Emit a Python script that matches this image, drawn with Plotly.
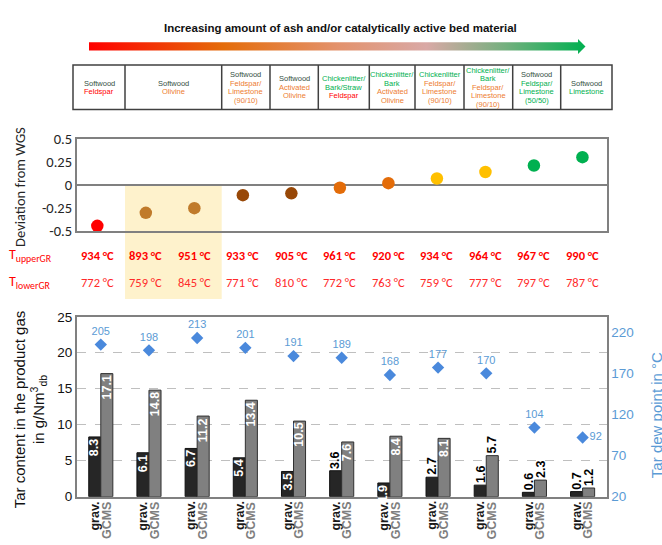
import plotly.graph_objects as go

# ---------------- data ----------------
cases = list(range(11))
wgs_deviation = [-0.44, -0.30, -0.25, -0.11, -0.09, -0.03, 0.02, 0.07, 0.14, 0.21, 0.30]
point_colors = ["#ff0000", "#c07b2b", "#c07b2b", "#984807", "#984807", "#e36c09",
                "#e36c09", "#ffc000", "#ffc000", "#00b050", "#00b050"]
t_upper = [934, 893, 951, 933, 905, 961, 920, 934, 964, 967, 990]
t_lower = [772, 759, 845, 771, 810, 772, 763, 759, 777, 797, 787]
tar_grav = [8.3, 6.1, 6.7, 5.4, 3.5, 3.6, 1.9, 2.7, 1.6, 0.6, 0.7]
tar_gcms = [17.1, 14.8, 11.2, 13.4, 10.5, 7.6, 8.4, 8.1, 5.7, 2.3, 1.2]
dew_point = [205, 198, 213, 201, 191, 189, 168, 177, 170, 104, 92]
# label placement of the bar values: in = inside at the top, out = above the bar
grav_label_pos = ["in", "in", "in", "in", "in", "out", "in", "out", "out", "out", "out"]
gcms_label_pos = ["in", "in", "in", "in", "in", "in", "in", "in", "out", "out", "out"]
dew_label_pos = ["top center"] * 10 + ["middle right"]
left_ticks = [0, 5, 10, 15, 20, 25]
right_ticks = [20, 70, 120, 170, 220]
dev_ticks = [-0.5, -0.25, 0, 0.25, 0.5]

# bed material table (text, colour key) per cell
table_cells = [
    [("Softwood", "wood"), ("Feldspar", "red")],
    [("Softwood", "wood"), ("Olivine", "orange")],
    [("Softwood", "wood"), ("Feldspar/", "orange"), ("Limestone", "orange"), ("(90/10)", "orange")],
    [("Softwood", "wood"), ("Activated", "orange"), ("Olivine", "orange")],
    [("Chickenlitter/", "green"), ("Bark/Straw", "green"), ("Feldspar", "red")],
    [("Chickenlitter/", "green"), ("Bark", "green"), ("Activated", "orange"), ("Olivine", "orange")],
    [("Chickenlitter", "green"), ("Feldspar/", "orange"), ("Limestone", "orange"), ("(90/10)", "orange")],
    [("Chickenlitter/", "green"), ("Bark", "green"), ("Feldspar/", "orange"), ("Limestone", "orange"), ("(90/10)", "orange")],
    [("Softwood", "wood"), ("Feldspar/", "green"), ("Limestone", "green"), ("(50/50)", "green")],
    [("Softwood", "wood"), ("Limestone", "green")],
]
text_colors = {"wood": "#34513f", "red": "#ff0000", "orange": "#ed7d31", "green": "#00b050"}

# ---------------- page geometry (pixels) ----------------
W, H = 662, 545


def px(x):
    return x / W


def py(y):
    return 1 - y / H


PLOT_L, PLOT_R = 76.7, 606.7
UP_T, UP_B = 134, 230
LO_T, LO_B = 318.3, 504.3
TABLE_EDGES = [73, 125, 221.7, 270, 318.3, 369.3, 415, 464, 512.7, 560.7, 612]
TABLE_T, TABLE_B = 58, 104
TABLE_LINE = 8.8

ARIAL = "Liberation Sans, Arial, sans-serif"
CALIBRI = "Carlito, Lato, sans-serif"
BLUE_TXT = "#5b9bd5"
BLUE_MK = "#4a89dc"
RED = "#ff0000"
AXIS_GRAY = "#808080"

fig = go.Figure()

# gradient arrow on a full-page pixel overlay
arrow_x = [89, 578, 578, 585.5, 578, 578, 89, 89]
arrow_y = [34.5, 34.5, 31, 38.8, 46.5, 43, 43, 34.5]
fig.add_trace(go.Scatter(
    x=arrow_x, y=arrow_y, xaxis="x3", yaxis="y4", mode="lines",
    line=dict(width=0), fill="toself", hoverinfo="skip",
    fillgradient=dict(type="horizontal", colorscale=[
        [0.0, "#ff0000"], [0.27, "#e46c0a"], [0.5, "#e3926c"],
        [0.68, "#d9a9a6"], [0.84, "#73b07e"], [1.0, "#00b050"]]),
))

# deviation from water-gas-shift equilibrium
fig.add_trace(go.Scatter(
    x=cases, y=wgs_deviation, xaxis="x", yaxis="y", mode="markers",
    marker=dict(size=12.5, color=point_colors, line=dict(width=0)), cliponaxis=False,
))

# tar content bars
fig.add_trace(go.Bar(
    x=cases, y=tar_grav, xaxis="x2", yaxis="y2", name="grav.",
    marker=dict(color="#262626", line=dict(color="#111111", width=1)),
))
fig.add_trace(go.Bar(
    x=cases, y=tar_gcms, xaxis="x2", yaxis="y2", name="GCMS",
    marker=dict(color="#808080", line=dict(color="#303030", width=1)),
))

# tar dew point
fig.add_trace(go.Scatter(
    x=cases, y=dew_point, xaxis="x2", yaxis="y3", mode="markers+text",
    marker=dict(symbol="diamond", size=9.5, color=BLUE_MK),
    text=[str(v) for v in dew_point], textposition=dew_label_pos,
    textfont=dict(family=ARIAL, size=11, color=BLUE_TXT), cliponaxis=False,
))

annotations = []
shapes = []


def label(x, y, text, font, xref="paper", yref="paper", xanchor="center", yanchor="middle", **kw):
    annotations.append(dict(x=x, y=y, xref=xref, yref=yref, text=text, font=font,
                            xanchor=xanchor, yanchor=yanchor, showarrow=False, **kw))


# header
label(px(340.7), py(20),
      "<b>Increasing amount of ash and/or catalytically active bed material</b>",
      dict(family=ARIAL, size=11.5, color="#111111"))

# table
shapes.append(dict(type="rect", xref="paper", yref="paper",
                   x0=px(TABLE_EDGES[0]), x1=px(TABLE_EDGES[-1]), y0=py(TABLE_B), y1=py(TABLE_T),
                   line=dict(color="#404040", width=1.5)))
for e in TABLE_EDGES[1:-1]:
    shapes.append(dict(type="line", xref="paper", yref="paper",
                       x0=px(e), x1=px(e), y0=py(TABLE_B), y1=py(TABLE_T),
                       line=dict(color="#404040", width=1.5)))
for k, cell in enumerate(table_cells):
    cx = (TABLE_EDGES[k] + TABLE_EDGES[k + 1]) / 2
    cy = (TABLE_T + TABLE_B) / 2
    n = len(cell)
    for j, (t, c) in enumerate(cell):
        label(px(cx), py(cy + (j - (n - 1) / 2) * TABLE_LINE), t,
              dict(family=ARIAL, size=7.5, color=text_colors[c]))

# highlighted olivine cases
shapes.append(dict(type="rect", xref="paper", yref="paper", layer="below",
                   x0=px(125), x1=px(221.7), y0=py(300), y1=py(182),
                   fillcolor="#fef2cc", line=dict(width=0)))

# temperatures
label(px(7), py(255), "T<sub>upperGR</sub>", dict(family=CALIBRI, size=14, color=RED), xanchor="left")
label(px(7), py(283), "T<sub>lowerGR</sub>", dict(family=CALIBRI, size=14, color=RED), xanchor="left")
for i in cases:
    label(i, py(255), f"<b>{t_upper[i]} °C</b>", dict(family=CALIBRI, size=12.5, color=RED), xref="x")
    label(i, py(283), f"{t_lower[i]} °C", dict(family=CALIBRI, size=12.5, color="#ff2a2a"), xref="x")

# bar value labels
for values, positions, shift in ((tar_grav, grav_label_pos, -6), (tar_gcms, gcms_label_pos, 6)):
    for i, (v, pos) in enumerate(zip(values, positions)):
        inside = pos == "in"
        label(i, v, f"<b>{v:.1f}</b>", dict(family=ARIAL, size=12.5, color="white" if inside else "black"),
              xref="x2", yref="y2", xshift=shift, textangle=-90,
              yanchor="top" if inside else "bottom")

# category labels under the bars
for i in cases:
    label(i, py(507), "<b>grav.</b>", dict(family=ARIAL, size=12.5, color="#1a1a1a"),
          xref="x2", xshift=-6, textangle=-90, yanchor="top")
    label(i, py(507), "<b>GCMS</b>", dict(family=ARIAL, size=12.5, color="#7f7f7f"),
          xref="x2", xshift=6, textangle=-90, yanchor="top")

# axis titles
label(px(20), py(184), "Deviation from WGS", dict(family=CALIBRI, size=14.5, color="#262626"),
      textangle=-90)
label(px(30), py(414), "Tar content in the product gas<br>in g/Nm<sup>3</sup><sub>db</sub>",
      dict(family=ARIAL, size=15, color="#111111"), textangle=-90)
label(px(656), py(420), "Tar dew point in °C", dict(family=ARIAL, size=15, color=BLUE_TXT),
      textangle=-90)

fig.update_layout(
    width=W, height=H, margin=dict(l=0, r=0, t=0, b=0),
    paper_bgcolor="white", plot_bgcolor="rgba(0,0,0,0)", showlegend=False,
    barmode="group", bargap=0.5, bargroupgap=0,
    xaxis=dict(domain=[px(PLOT_L), px(PLOT_R)], range=[-0.425, 10.5], anchor="y",
               showticklabels=False, ticks="", showgrid=False, zeroline=False,
               showline=True, mirror=True, linecolor=AXIS_GRAY, linewidth=1.5, fixedrange=True),
    yaxis=dict(domain=[py(UP_B), py(UP_T)], range=[-0.5, 0.5], anchor="x",
               tickvals=dev_ticks, ticktext=[f"{t:g}" for t in dev_ticks], ticks="",
               tickfont=dict(family=CALIBRI, size=14.5, color="#262626"),
               showgrid=False, zeroline=True, zerolinecolor=AXIS_GRAY, zerolinewidth=1.5,
               showline=True, mirror=True, linecolor=AXIS_GRAY, linewidth=1.5, fixedrange=True),
    xaxis2=dict(domain=[px(PLOT_L), px(PLOT_R)], range=[-0.5, 10.5], anchor="y2",
                showticklabels=False, ticks="", showgrid=False, zeroline=False,
                showline=True, mirror=True, linecolor=AXIS_GRAY, linewidth=1.5, fixedrange=True),
    yaxis2=dict(domain=[py(LO_B), py(LO_T)], range=[0, 25], anchor="x2",
                tickvals=left_ticks, ticks="", tickfont=dict(family=ARIAL, size=13.5, color="#111111"),
                showgrid=True, gridcolor="#bfbfbf", griddash="dash", gridwidth=1,
                zeroline=False, showline=True, linecolor=AXIS_GRAY, linewidth=1.5, fixedrange=True),
    yaxis3=dict(overlaying="y2", side="right", anchor="x2", range=[20, 238.8],
                tickvals=right_ticks, ticks="", tickfont=dict(family=ARIAL, size=13.5, color=BLUE_TXT),
                showgrid=False, zeroline=False, showline=True, linecolor=AXIS_GRAY, linewidth=1.5,
                fixedrange=True),
    xaxis3=dict(domain=[0, 1], range=[0, W], anchor="y4", visible=False, fixedrange=True),
    yaxis4=dict(domain=[0, 1], range=[H, 0], anchor="x3", visible=False, fixedrange=True),
    annotations=annotations, shapes=shapes,
)

fig.write_html("out.html")
